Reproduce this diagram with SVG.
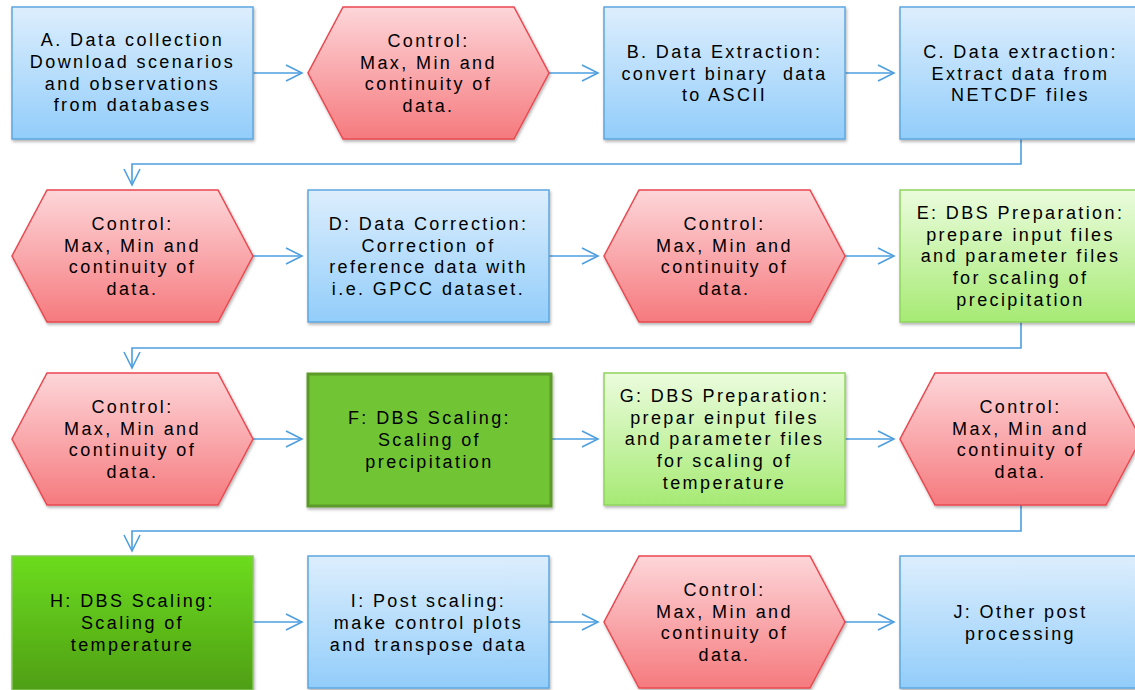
<svg xmlns="http://www.w3.org/2000/svg" width="1135" height="690" viewBox="0 0 1135 690">
<defs>
<linearGradient id="gBlue" x1="0" y1="0" x2="0" y2="1"><stop offset="0" stop-color="#ddeefd"/><stop offset="1" stop-color="#92cdfa"/></linearGradient>
<linearGradient id="gRed" x1="0" y1="0" x2="0" y2="1"><stop offset="0" stop-color="#fdd6d9"/><stop offset="1" stop-color="#f57a7e"/></linearGradient>
<linearGradient id="gLight" x1="0" y1="0" x2="0" y2="1"><stop offset="0" stop-color="#ebfcdd"/><stop offset="1" stop-color="#a6ea74"/></linearGradient>
<linearGradient id="gH" x1="0" y1="0" x2="0" y2="1"><stop offset="0" stop-color="#6cdc1f"/><stop offset="1" stop-color="#4f9f14"/></linearGradient>
<filter id="sh" x="-5%" y="-5%" width="115%" height="120%"><feDropShadow dx="1" dy="2" stdDeviation="1.8" flood-color="#000" flood-opacity="0.3"/></filter>
<marker id="ah" markerUnits="userSpaceOnUse" markerWidth="20" markerHeight="20" viewBox="0 0 20 20" refX="17" refY="9" orient="auto"><path d="M1,1 L17,9 L1,17" fill="none" stroke="#4d9fe0" stroke-width="1.6"/></marker>
<style>
.blue{fill:url(#gBlue);stroke:#5ea7e0;stroke-width:1.5;filter:url(#sh)}
.red{fill:url(#gRed);stroke:#ea4850;stroke-width:1.5;filter:url(#sh)}
.light{fill:url(#gLight);stroke:#8fd45c;stroke-width:1.5;filter:url(#sh)}
.dark{fill:#71c534;stroke:#5c9a2b;stroke-width:3;filter:url(#sh)}
.hbox{fill:url(#gH);stroke:#86c85a;stroke-width:1.5;filter:url(#sh)}
text{font-family:"Liberation Sans",Arial,sans-serif;font-size:18px;letter-spacing:2.4px;fill:#000;text-anchor:middle}
.c{fill:none;stroke:#4d9fe0;stroke-width:1.6;marker-end:url(#ah)}
</style>
</defs>

<g id="connectors">
<path class="c" d="M253,73 H302"/>
<path class="c" d="M549,73 H598"/>
<path class="c" d="M845,73 H894"/>
<path class="c" d="M1021,139 V164 H132 V185"/>
<path class="c" d="M253,256 H302"/>
<path class="c" d="M549,256 H598"/>
<path class="c" d="M845,256 H894"/>
<path class="c" d="M1021,322 V348 H132 V368"/>
<path class="c" d="M253,439 H302"/>
<path class="c" d="M549,439 H598"/>
<path class="c" d="M845,439 H894"/>
<path class="c" d="M1021,505 V531 H132 V551"/>
<path class="c" d="M253,622 H302"/>
<path class="c" d="M549,622 H598"/>
<path class="c" d="M845,622 H894"/>
</g>

<g id="nodeA"><rect class="blue" x="12" y="7" width="241" height="132"/>
<text x="132.5" y="46">A. Data collection</text><text x="132.5" y="68">Download scenarios</text><text x="132.5" y="89.5">and observations</text><text x="132.5" y="111">from databases</text></g>

<g id="control1"><polygon class="red" points="343,7 514,7 549,73 514,139 343,139 308,73"/>
<text x="428.5" y="47">Control:</text><text x="428.5" y="68.5">Max, Min and</text><text x="428.5" y="90">continuity of</text><text x="428.5" y="112">data.</text></g>

<g id="nodeB"><rect class="blue" x="604" y="7" width="241" height="132"/>
<text x="724.5" y="57.5">B. Data Extraction:</text><text x="724.5" y="79.5" xml:space="preserve">convert binary  data</text><text x="724.5" y="101">to ASCII</text></g>

<g id="nodeC"><rect class="blue" x="900" y="7" width="242" height="132"/>
<text x="1020.5" y="57.5">C. Data extraction:</text><text x="1020.5" y="79.5">Extract data from</text><text x="1020.5" y="101">NETCDF files</text></g>

<g id="control2"><polygon class="red" points="47,190 218,190 253,256 218,322 47,322 12,256"/>
<text x="132.5" y="230">Control:</text><text x="132.5" y="251.5">Max, Min and</text><text x="132.5" y="273">continuity of</text><text x="132.5" y="295">data.</text></g>

<g id="nodeD"><rect class="blue" x="308" y="190" width="241" height="132"/>
<text x="428.5" y="230">D: Data Correction:</text><text x="428.5" y="251.5">Correction of</text><text x="428.5" y="273">reference data with</text><text x="428.5" y="295">i.e. GPCC dataset.</text></g>

<g id="control3"><polygon class="red" points="639,190 810,190 845,256 810,322 639,322 604,256"/>
<text x="724.5" y="230">Control:</text><text x="724.5" y="251.5">Max, Min and</text><text x="724.5" y="273">continuity of</text><text x="724.5" y="295">data.</text></g>

<g id="nodeE"><rect class="light" x="900" y="190" width="242" height="132"/>
<text x="1020.5" y="219">E: DBS Preparation:</text><text x="1020.5" y="240.5">prepare input files</text><text x="1020.5" y="262">and parameter files</text><text x="1020.5" y="284">for scaling of</text><text x="1020.5" y="305.5">precipitation</text></g>

<g id="control4"><polygon class="red" points="47,373 218,373 253,439 218,505 47,505 12,439"/>
<text x="132.5" y="413">Control:</text><text x="132.5" y="434.5">Max, Min and</text><text x="132.5" y="456">continuity of</text><text x="132.5" y="478">data.</text></g>

<g id="nodeF"><rect class="dark" x="308" y="374" width="243" height="132"/>
<text x="429.5" y="424">F: DBS Scaling:</text><text x="429.5" y="446">Scaling of</text><text x="429.5" y="467.5">precipitation</text></g>

<g id="nodeG"><rect class="light" x="604" y="373" width="241" height="132"/>
<text x="724.5" y="402">G: DBS Preparation:</text><text x="724.5" y="423.5">prepar einput files</text><text x="724.5" y="445">and parameter files</text><text x="724.5" y="467">for scaling of</text><text x="724.5" y="488.5">temperature</text></g>

<g id="control5"><polygon class="red" points="935,373 1106,373 1141,439 1106,505 935,505 900,439"/>
<text x="1020.5" y="413">Control:</text><text x="1020.5" y="434.5">Max, Min and</text><text x="1020.5" y="456">continuity of</text><text x="1020.5" y="478">data.</text></g>

<g id="nodeH"><rect class="hbox" x="12" y="556" width="241" height="134"/>
<text x="132.5" y="607">H: DBS Scaling:</text><text x="132.5" y="629">Scaling of</text><text x="132.5" y="650.5">temperature</text></g>

<g id="nodeI"><rect class="blue" x="308" y="556" width="241" height="132"/>
<text x="428.5" y="607">I: Post scaling:</text><text x="428.5" y="629">make control plots</text><text x="428.5" y="650.5">and transpose data</text></g>

<g id="control6"><polygon class="red" points="639,556 810,556 845,622 810,688 639,688 604,622"/>
<text x="724.5" y="596">Control:</text><text x="724.5" y="617.5">Max, Min and</text><text x="724.5" y="639">continuity of</text><text x="724.5" y="661">data.</text></g>

<g id="nodeJ"><rect class="blue" x="900" y="556" width="242" height="132"/>
<text x="1020.5" y="617.5">J: Other post</text><text x="1020.5" y="639.5">processing</text></g>
</svg>
